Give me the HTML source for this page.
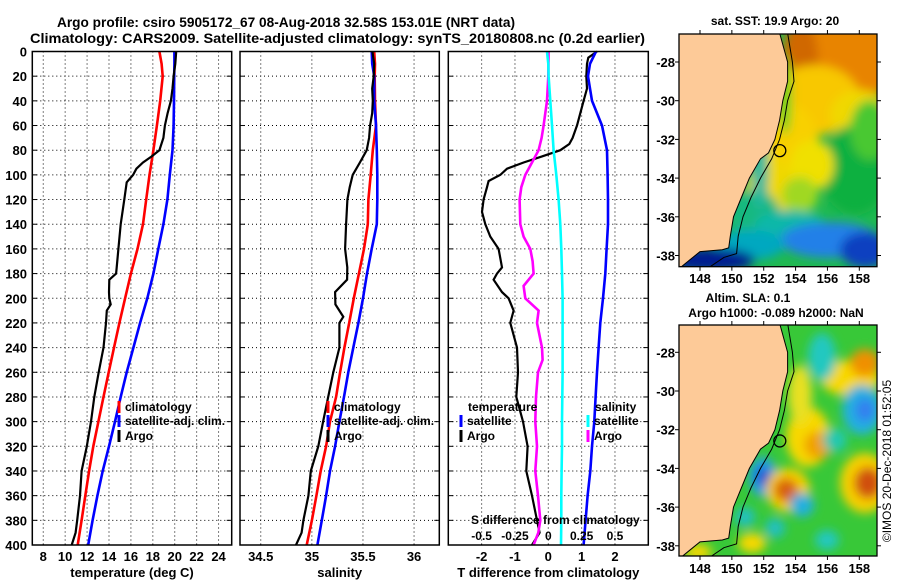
<!DOCTYPE html>
<html><head><meta charset="utf-8">
<style>
html,body{margin:0;padding:0;background:#fff;}
svg{display:block;font-family:"Liberation Sans",Arial,sans-serif;font-weight:bold;}
</style></head>
<body>
<svg id="fig" width="900" height="580" viewBox="0 0 900 580" xmlns="http://www.w3.org/2000/svg">
<defs>
<filter id="blur6" x="-50%" y="-50%" width="200%" height="200%"><feGaussianBlur stdDeviation="5"/></filter>
<clipPath id="clipTop"><rect x="679" y="34" width="198" height="233"/></clipPath>
<clipPath id="clipBot"><rect x="679" y="325" width="198" height="231"/></clipPath>
</defs>
<text x="57" y="27" font-size="14" textLength="458" lengthAdjust="spacingAndGlyphs">Argo profile: csiro 5905172_67 08-Aug-2018 32.58S 153.01E (NRT data)</text>
<text x="30" y="43" font-size="14" textLength="615" lengthAdjust="spacingAndGlyphs">Climatology: CARS2009. Satellite-adjusted climatology: synTS_20180808.nc (0.2d earlier)</text>
<g id="plots"></g>
<g id="maps"></g>
<text transform="translate(891,461) rotate(-90)" text-anchor="middle" font-size="12" font-weight="normal">©IMOS 20-Dec-2018 01:52:05</text>
</svg>
<script>
// ---- depth grids (m)
const depthGrid = [0,10,20,40,60,80,100,120,140,160,180,200,220,240,260,280,300,320,340,360,380,400];
// ---- temperature (deg C)
const tempClim = [18.6,18.8,18.9,18.67,18.37,18.05,17.7,17.4,17.1,16.6,16.0,15.47,14.95,14.46,13.97,13.5,13.03,12.57,12.18,11.84,11.5,11.14];
const tempSat = [19.97,19.97,19.95,19.93,19.9,19.8,19.55,19.33,18.97,18.5,18.05,17.5,16.84,16.23,15.62,15.07,14.55,14.0,13.43,12.94,12.5,12.1];
const tempArgoDepth = [0,10,20,30,40,50,60,70,80,85,90,95,100,106,120,140,160,175,180,185,195,200,205,210,220,240,260,280,300,320,340,360,380,390,400];
const tempArgo = [20.13,20.05,19.9,19.8,19.65,19.35,19.1,18.97,18.6,17.9,17.1,16.5,16.2,15.62,15.4,15.07,14.86,14.7,14.65,14.03,14.0,14.03,14.16,13.8,13.73,13.5,13.06,12.66,12.36,11.97,11.5,11.35,11.1,10.95,10.6];
// ---- salinity
const salClim = [35.61,35.618,35.615,35.618,35.628,35.596,35.576,35.553,35.547,35.51,35.46,35.41,35.365,35.318,35.276,35.237,35.178,35.139,35.087,35.045,35.0,34.95];
const salSat = [35.586,35.59,35.61,35.61,35.628,35.635,35.64,35.64,35.635,35.586,35.54,35.5,35.455,35.406,35.357,35.315,35.27,35.227,35.178,35.139,35.097,35.054];
const salArgoDepth = [0,10,20,30,40,50,60,70,80,90,100,110,120,140,160,175,185,195,205,215,220,240,260,280,300,320,340,360,380,390,400];
const salArgo = [35.592,35.61,35.605,35.59,35.596,35.59,35.57,35.56,35.537,35.47,35.4,35.37,35.348,35.335,35.325,35.347,35.345,35.227,35.23,35.308,35.27,35.27,35.21,35.16,35.11,35.063,34.99,34.966,34.917,34.9,34.845];
// ---- differences from climatology
const dTSat = [1.43,1.25,1.19,1.31,1.61,1.76,1.78,1.79,1.79,1.75,1.71,1.64,1.56,1.51,1.46,1.42,1.38,1.31,1.26,1.18,1.12,1.06];
const dSSat = [-0.01,0,0.0025,0.015,0.0275,0.04,0.06,0.0775,0.09,0.0975,0.1025,0.1075,0.1075,0.1075,0.1075,0.105,0.1025,0.1025,0.1,0.0975,0.0975,0.095];
const dTArgoDepth = [0,5,10,20,30,40,50,60,70,75,80,85,90,95,100,105,110,120,130,140,150,160,175,180,185,195,200,210,220,240,260,280,300,320,340,360,380,390,400];
const dTArgo = [1.46,1.2,1.16,1.14,1.16,1.06,0.96,0.86,0.73,0.63,0.36,-0.19,-0.74,-1.24,-1.44,-1.79,-1.84,-1.94,-1.99,-1.89,-1.74,-1.49,-1.39,-1.54,-1.64,-1.39,-1.19,-1.04,-1.14,-0.94,-0.91,-0.96,-0.76,-0.62,-0.66,-0.49,-0.34,-0.26,-0.49];
const dSArgoDepth = [0,20,40,60,70,80,90,100,110,120,140,150,160,170,180,190,200,210,220,240,250,260,280,300,320,340,360,380,390,400];
const dSArgo = [0.0025,0,-0.01,-0.035,-0.05,-0.0725,-0.1225,-0.1725,-0.2025,-0.215,-0.21,-0.185,-0.135,-0.1175,-0.11,-0.185,-0.1725,-0.0725,-0.085,-0.0475,-0.0425,-0.0775,-0.0925,-0.0975,-0.085,-0.0975,-0.0775,-0.06,-0.075,-0.11];
// ---- tick labels
const depthTicks = [0,20,40,60,80,100,120,140,160,180,200,220,240,260,280,300,320,340,360,380,400];
const tempTicks = [8,10,12,14,16,18,20,22,24];
const salTicks = [34.5,35,35.5,36];
const dTTicks = [-2,-1,0,1,2];
const dSTicks = [-0.5,-0.25,0,0.25,0.5];
const dSTickLabels = ["-0.5","-0.25","0","0.25","0.5"];

const NS = "http://www.w3.org/2000/svg";
function mk(tag, attrs, parent){const e=document.createElementNS(NS,tag);for(const k in attrs)e.setAttribute(k,attrs[k]);if(parent)parent.appendChild(e);return e;}

const Y0 = 51.5, Y1 = 545;
function yScale(d){return Y0 + d/400*(Y1-Y0);}
const plots = document.getElementById('plots');

function panel(name, left, right, dmin, dmax, xticks, xtickLabels, xtitle, showY){
  const g = mk('g', {}, plots);
  
  
  const xs = v => left + (v-dmin)/(dmax-dmin)*(right-left);
  depthTicks.forEach(d=>{
    if(d===0||d===400) return;
    const l = mk('line',{x1:left,x2:right,y1:yScale(d),y2:yScale(d),stroke:'#000','stroke-width':1,'stroke-dasharray':'1 3'},g);
    
    
    mk('line',{x1:left,x2:left+5,y1:yScale(d),y2:yScale(d),stroke:'#000','stroke-width':1},g);
    mk('line',{x1:right-5,x2:right,y1:yScale(d),y2:yScale(d),stroke:'#000','stroke-width':1},g);
  });
  xticks.forEach((v,i)=>{
    const x = xs(v);
    const l = mk('line',{x1:x,x2:x,y1:Y0,y2:Y1,stroke:'#000','stroke-width':1,'stroke-dasharray':'1 3'},g);
    
    
    const t = mk('text',{x:x,y:561,'text-anchor':'middle','font-size':13},g);
    t.textContent = xtickLabels[i];
    
    
  });
  if(showY){
    depthTicks.forEach(d=>{
      const t = mk('text',{x:27,y:yScale(d)+5,'text-anchor':'end','font-size':13},g);
      t.textContent = d;
      
      
    });
  }
  const tt = mk('text',{x:(left+right)/2,y:577,'text-anchor':'middle','font-size':13},g);
  tt.textContent = xtitle;
  
  
  return {g, xs};
}
function series(p, depths, vals, color, width, name){
  const pts = depths.map((d,i)=>p.xs(vals[i]).toFixed(1)+','+yScale(d).toFixed(1)).join(' ');
  const pl = mk('polyline',{points:pts,fill:'none',stroke:color,'stroke-width':width,'stroke-linejoin':'miter'},p.g);
  
  
}
function frame(p,left,right){
  const r = mk('rect',{x:left,y:Y0,width:right-left,height:Y1-Y0,fill:'none',stroke:'#000','stroke-width':1.5},p.g);
  
  
}
function legendItem(p, x, y, color, label){
  const l = mk('line',{x1:x,x2:x,y1:y-10,y2:y+2,stroke:color,'stroke-width':3},p.g);
  
  
  if(label){
    const t = mk('text',{x:x+6,y:y,'font-size':12},p.g);
    t.textContent = label;
    
    
  }
}
function legendText(p,x,y,label){
  const t = mk('text',{x:x,y:y,'font-size':12},p.g);
  t.textContent = label;
  
  
}

const p1 = panel('temperature-panel', 32.3, 231.7, 7.0, 25.2, tempTicks, tempTicks.map(String), 'temperature (deg C)', true);
series(p1, depthGrid, tempClim, '#ff0000', 2.6, 'temp-climatology-line');
series(p1, depthGrid, tempSat, '#0000ff', 2.6, 'temp-satellite-line');
series(p1, tempArgoDepth, tempArgo, '#000', 2.2, 'temp-argo-line');
frame(p1, 32.3, 231.7);
legendItem(p1, 119, 411, '#ff0000', 'climatology');
legendItem(p1, 119, 425, '#0000ff', 'satellite-adj. clim.');
legendItem(p1, 119, 440, '#000', 'Argo');

const p2 = panel('salinity-panel', 240, 439.3, 34.297, 36.247, salTicks, salTicks.map(String), 'salinity', false);
series(p2, depthGrid, salClim, '#ff0000', 2.6, 'sal-climatology-line');
series(p2, depthGrid, salSat, '#0000ff', 2.6, 'sal-satellite-line');
series(p2, salArgoDepth, salArgo, '#000', 2.2, 'sal-argo-line');
frame(p2, 240, 439.3);
legendItem(p2, 328, 411, '#ff0000', 'climatology');
legendItem(p2, 328, 425, '#0000ff', 'satellite-adj. clim.');
legendItem(p2, 328, 440, '#000', 'Argo');

const p3 = panel('difference-panel', 448.3, 648.3, -3, 3, dTTicks, dTTicks.map(String), 'T difference from climatology', false);
const dSx = {g:p3.g, xs: v => p3.xs(v*4)};
series(p3, dTArgoDepth, dTArgo, '#000', 2.2, 'dT-argo-line');
series(dSx, dSArgoDepth, dSArgo, '#ff00ff', 2.6, 'dS-argo-line');
series(dSx, depthGrid, dSSat, '#00ffff', 2.6, 'dS-satellite-line');
series(p3, depthGrid, dTSat, '#0000ff', 2.6, 'dT-satellite-line');
frame(p3, 448.3, 648.3);
legendText(p3, 468, 411, 'temperature');
legendItem(p3, 461, 425, '#0000ff', 'satellite');
legendItem(p3, 461, 440, '#000', 'Argo');
legendText(p3, 595, 411, 'salinity');
legendItem(p3, 588, 425, '#00ffff', 'satellite');
legendItem(p3, 588, 440, '#ff00ff', 'Argo');
legendText(p3, 471, 524, 'S difference from climatology');
dSTicks.forEach((v,i)=>{
  const t = mk('text',{x:dSx.xs(v),y:540,'text-anchor':'middle','font-size':12},p3.g);
  t.textContent = dSTickLabels[i];
  
  
});

// ---- Maps
const coastLon = [153.0,153.5,153.5,153.2,153.0,152.7,152.3,151.8,151.1,150.6,150.1,149.9,149.8,149.4,148.0,147.4,146.8];
const coastLat = [-26.5,-28,-29,-30,-31,-32,-32.7,-33,-34,-35,-36,-37,-37.6,-37.7,-37.8,-38.2,-38.6];
const isoLon = [153.5,153.8,153.9,153.5,153.3,153.0,152.5,151.8,151.2,150.7,150.4,150.3,149.5,148.6];
const isoLat = [-26.5,-28,-29,-30,-31,-32,-33,-34,-35,-36,-37,-37.9,-38.1,-38.6];
const lonTicks = [148,150,152,154,156,158];
const latTicks = [-28,-30,-32,-34,-36,-38];
const argoLon = 153.01, argoLat = -32.58;

const maps = document.getElementById('maps');
function drawMap(name, top, lat28y, bottom, clip, blobs, base, title1, title2, lonLabelY){
  const g = mk('g',{},maps);
  
  
  const L=679, R=877;
  const lx = lon => 700 + (lon-148)*15.93;
  const ly = lat => lat28y + (-28-lat)*19.35;
  const inner = mk('g',{'clip-path':'url(#'+clip+')'},g);
  mk('rect',{x:L,y:top,width:R-L,height:bottom-top,fill:base},inner);
  const bg = mk('g',{filter:'url(#blur6)'},inner);
  blobs.forEach(b=>{ mk('ellipse',{cx:b[0],cy:b[1],rx:b[2],ry:b[3],fill:b[4]},bg); });
  let pts = coastLon.map((lo,i)=>lx(lo).toFixed(1)+','+ly(coastLat[i]).toFixed(1));
  pts.push((L-5)+','+(bottom+5)); pts.push((L-5)+','+(top-5));
  const land = mk('polygon',{points:pts.join(' '),fill:'#fdca98',stroke:'#000','stroke-width':1},inner);
  
  
  const iso = mk('polyline',{points:isoLon.map((lo,i)=>lx(lo).toFixed(1)+','+ly(isoLat[i]).toFixed(1)).join(' '),fill:'none',stroke:'#000','stroke-width':1},inner);
  
  
  const c = mk('circle',{cx:lx(argoLon),cy:ly(argoLat),r:6,fill:'none',stroke:'#000','stroke-width':1.3},inner);
  
  
  mk('rect',{x:L,y:top,width:R-L,height:bottom-top,fill:'none',stroke:'#000','stroke-width':1.3},g);
  lonTicks.forEach(lo=>{
    const x=lx(lo);
    mk('line',{x1:x,x2:x,y1:top-4,y2:top,stroke:'#000'},g);
    mk('line',{x1:x,x2:x,y1:bottom,y2:bottom+4,stroke:'#000'},g);
    const t=mk('text',{x:x,y:lonLabelY,'text-anchor':'middle','font-size':13},g);
    t.textContent=lo;
    
    
  });
  latTicks.forEach(la=>{
    const y=ly(la);
    mk('line',{x1:L-4,x2:L,y1:y,y2:y,stroke:'#000'},g);
    mk('line',{x1:R,x2:R+4,y1:y,y2:y,stroke:'#000'},g);
    const t=mk('text',{x:675,y:y+5,'text-anchor':'end','font-size':13},g);
    t.textContent=la;
    
    
  });
  if(title1){const t=mk('text',{x:title1[1],y:title1[2],'text-anchor':'middle','font-size':12},g);t.textContent=title1[0];}
  if(title2){const t=mk('text',{x:title2[1],y:title2[2],'text-anchor':'middle','font-size':12},g);t.textContent=title2[0];}
}
const sstBlobs = [
 [845,60,60,40,'#e88400'],[800,60,18,40,'#d06800'],[815,100,45,35,'#f8c800'],
 [860,115,30,25,'#f0d800'],[855,170,35,45,'#10b040'],[870,130,20,30,'#48c830'],
 [790,150,30,45,'#f8d000'],[812,165,22,25,'#f0e000'],[770,195,25,40,'#f0d800'],
 [800,195,18,18,'#a0d820'],[755,215,25,25,'#18b880'],[790,225,35,15,'#10b8a8'],
 [830,240,50,18,'#2080e8'],[865,250,25,18,'#1040c0'],[750,245,35,15,'#00a8c0'],
 [710,260,45,12,'#001a90'],[760,170,8,40,'#20b8a0'],[785,95,6,40,'#40d020']
];
drawMap('sst-map', 34, 62, 266.7, 'clipTop', sstBlobs, '#20b850',
  ['sat. SST: 19.9 Argo: 20',775,25], null, 283);
const slaBlobs = [
 [808,437,22,30,'#f8d800'],[818,445,14,14,'#f0a000'],[850,378,30,18,'#f8d800'],[865,363,15,14,'#f09000'],
 [822,357,14,24,'#20c8c0'],[862,410,20,25,'#20b0e0'],[865,410,10,12,'#3080f0'],
 [835,440,12,12,'#20c8b0'],[763,477,14,20,'#20a0e8'],[763,477,7,10,'#1050d0'],
 [788,490,22,22,'#f8d000'],[786,490,12,12,'#d86010'],[865,483,25,30,'#f8d000'],[868,483,14,16,'#d05010'],
 [802,505,12,12,'#20b0e0'],[745,517,10,10,'#20c0c0'],[827,540,12,10,'#20c8c0'],
 [775,528,10,10,'#20c0c0'],[752,543,14,10,'#f8d800'],[698,552,14,8,'#f8d800'],[800,395,12,30,'#e8e020']
];
drawMap('sla-map', 325, 352.3, 556, 'clipBot', slaBlobs, '#38c838',
  ['Altim. SLA: 0.1',748,302], ['Argo h1000: -0.089 h2000: NaN',776,317], 573);
</script>
</body></html>
